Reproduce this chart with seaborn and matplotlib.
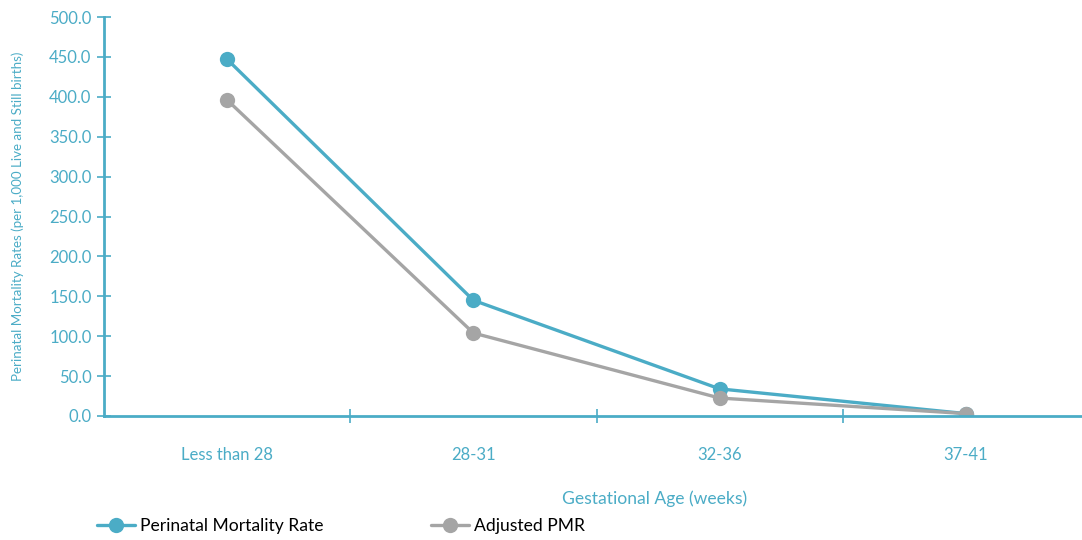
import matplotlib
matplotlib.use("Agg")
import matplotlib.pyplot as plt
import seaborn as sns
import pandas as pd
from matplotlib.ticker import FixedLocator

categories = ["Less than 28", "28-31", "32-36", "37-41"]
pmr = [447.0, 145.0, 34.0, 3.0]
adjusted_pmr = [396.0, 104.0, 22.5, 3.0]
series_names = ["Perinatal Mortality Rate", "Adjusted PMR"]
yticks = [0, 50, 100, 150, 200, 250, 300, 350, 400, 450, 500]

TEAL = "#4BACC6"
GRAY = "#A5A5A5"

sns.set_style("white")
plt.rcParams["font.family"] = ["Lato", "DejaVu Sans"]

df = pd.DataFrame({
    "age": categories * 2,
    "rate": pmr + adjusted_pmr,
    "series": [series_names[0]] * len(categories) + [series_names[1]] * len(categories),
})

fig = plt.figure(figsize=(10.82, 5.40), dpi=100)
ax = fig.add_axes([104 / 1082, 1 - 416 / 540, (1089 - 104) / 1082, (416 - 17) / 540])

sns.lineplot(data=df, x="age", y="rate", hue="series", hue_order=series_names,
             palette=[TEAL, GRAY], marker="o", markersize=11, markeredgewidth=0,
             linewidth=2.4, sort=False, ax=ax, legend=False)

ax.set_xlim(-0.5, 3.5)
ax.set_ylim(0, 500)
ax.set_yticks(yticks)
ax.set_yticklabels([f"{v:.1f}" for v in yticks])
ax.tick_params(axis="y", direction="inout", length=10, width=1.2, color=TEAL,
               labelcolor=TEAL, labelsize=12, pad=4, left=True)
ax.tick_params(axis="x", which="major", length=0, labelcolor=TEAL, labelsize=12, pad=22)
ax.xaxis.set_minor_locator(FixedLocator([0.5, 1.5, 2.5]))
ax.tick_params(axis="x", which="minor", direction="inout", length=10, width=1.2,
               color=TEAL, bottom=True)

for side in ["top", "right"]:
    ax.spines[side].set_visible(False)
for side in ["left", "bottom"]:
    ax.spines[side].set_color(TEAL)
    ax.spines[side].set_linewidth(2)

ax.set_xlabel("")
ax.set_ylabel("")
fig.text(18 / 1082, 1 - 216 / 540, "Perinatal Mortality Rates (per 1,000 Live and Still births)",
         rotation=90, ha="center", va="center", color=TEAL, fontsize=9.6)
fig.text(655 / 1082, 1 - 499 / 540, "Gestational Age (weeks)",
         ha="center", va="center", color=TEAL, fontsize=12.6)

handles = [
    plt.Line2D([], [], color=TEAL, marker="o", markersize=11, markeredgewidth=0, linewidth=2.4),
    plt.Line2D([], [], color=GRAY, marker="o", markersize=11, markeredgewidth=0, linewidth=2.4),
]
fig.legend(handles, series_names, loc="center left", bbox_to_anchor=(81 / 1082, 1 - 526 / 540),
           ncol=2, frameon=False, fontsize=12.6, handlelength=2.2, columnspacing=6.1,
           handletextpad=0.3, labelcolor="black")

fig.savefig("out.png", dpi=100)
